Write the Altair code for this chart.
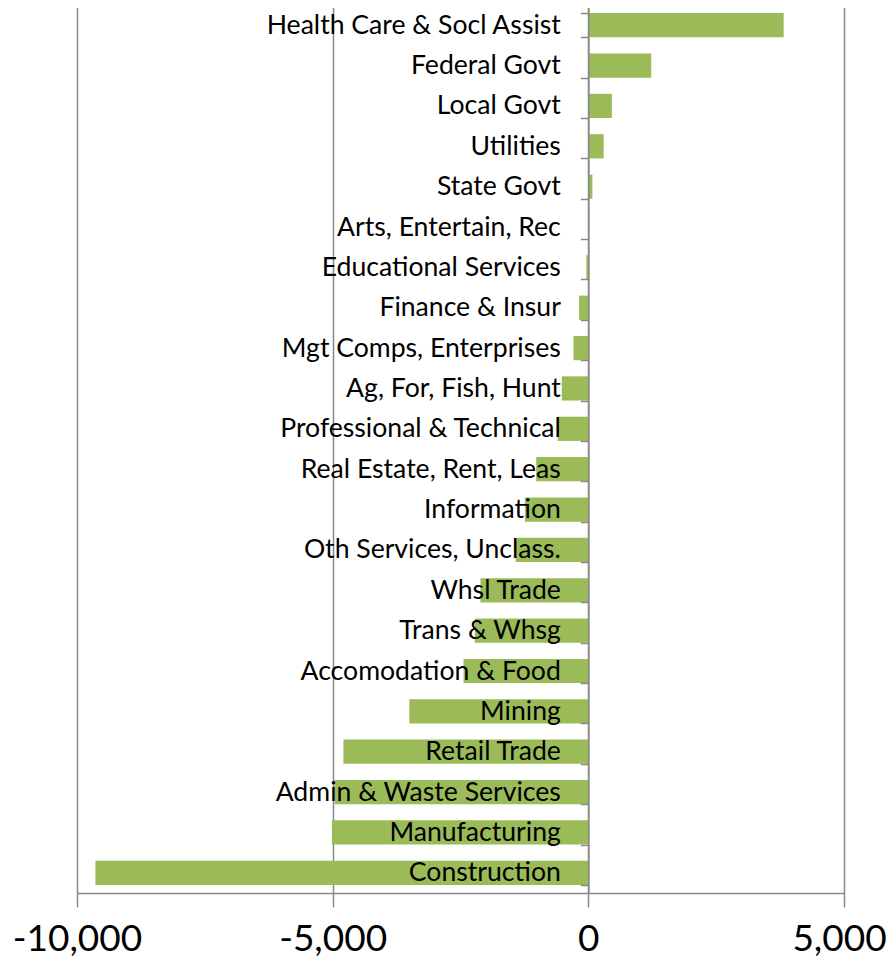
import altair as alt
import pandas as pd

categories = [
    "Health Care & Socl Assist", "Federal Govt", "Local Govt", "Utilities",
    "State Govt", "Arts, Entertain, Rec", "Educational Services",
    "Finance & Insur", "Mgt Comps, Enterprises", "Ag, For, Fish, Hunt",
    "Professional & Technical", "Real Estate, Rent, Leas", "Information",
    "Oth Services, Unclass.", "Whsl Trade", "Trans & Whsg",
    "Accomodation & Food", "Mining", "Retail Trade",
    "Admin & Waste Services", "Manufacturing", "Construction",
]
values = [
    3820, 1230, 460, 300, 80, 10, -40, -180, -290, -520, -600, -1020,
    -1240, -1420, -2110, -2220, -2440, -3500, -4790, -4960, -5015, -9640,
]
x_ticks = [-10000, -5000, 0, 5000]

df = pd.DataFrame({"category": categories, "value": values})

W = 767
H = 888
GRAY = "#898989"
FONT = "Lato"

x_scale = alt.Scale(domain=[-10000, 5000], nice=False, zero=False)
zero_px = W * 10000 / 15000

bars = alt.Chart(df).mark_bar(color="#9BBB59").encode(
    x=alt.X(
        "value:Q",
        scale=x_scale,
        axis=alt.Axis(
            values=x_ticks,
            labelExpr="(datum.value < 0 ? '-' : '') + format(abs(datum.value), ',.0f')",
            title=None,
            grid=True,
            gridColor=GRAY,
            gridWidth=1.5,
            domainColor=GRAY,
            domainWidth=1.5,
            tickColor=GRAY,
            tickWidth=1.5,
            tickSize=14,
            labelFont=FONT,
            labelFontSize=37,
            labelColor="black",
            labelBaseline="alphabetic",
            labelPadding=43,
            labelOffset={"condition": {"test": "datum.value == 5000", "value": -5}, "value": 0},
            labelFlush=False,
            labelOverlap=False,
        ),
    ),
    y=alt.Y(
        "category:N",
        sort=categories,
        scale=alt.Scale(paddingInner=0.4, paddingOuter=0.2),
        axis=alt.Axis(
            title=None,
            orient="left",
            offset=-zero_px,
            tickBand="extent",
            tickSize=8,
            tickColor=GRAY,
            tickWidth=1.5,
            domainColor=GRAY,
            domainWidth=1.5,
            labelFont=FONT,
            labelFontSize=26.6,
            labelColor="black",
            labelPadding=20,
            labelLimit=0,
            zindex=1,
        ),
    ),
)

chart = bars.properties(
    width=W,
    height=H,
    autosize=alt.AutoSizeParams(type="none"),
    padding={"left": 69, "top": -3, "right": 44, "bottom": 66},
).configure_view(stroke=None)

chart.save("out.html", embed_options={"renderer": "svg", "actions": False})
